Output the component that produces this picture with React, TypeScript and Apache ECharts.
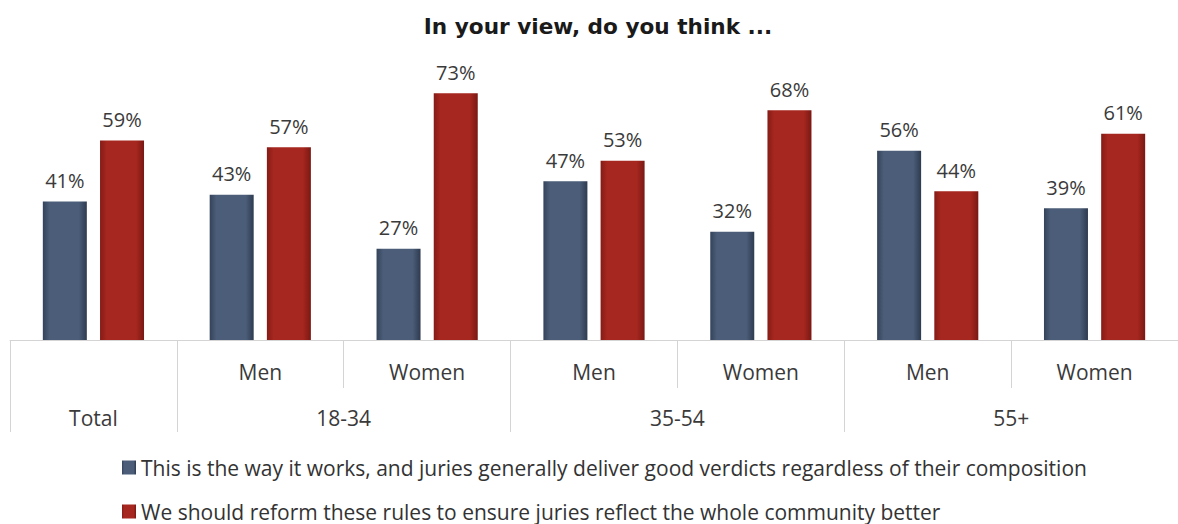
import React, { useEffect, useRef } from "react";
import * as echarts from "echarts";

const titleText = "In your view, do you think ...";
const categories = ["Total", "18-34 Men", "18-34 Women", "35-54 Men", "35-54 Women", "55+ Men", "55+ Women"];
const subLabels = ["", "Men", "Women", "Men", "Women", "Men", "Women"];
const groupLabels = ["Total", "18-34", "35-54", "55+"];
const groupSpans = [1, 2, 2, 2];
const seriesNames = [
  "This is the way it works, and juries generally deliver good verdicts regardless of their composition",
  "We should reform these rules to ensure juries reflect the whole community better",
];
const worksValues = [41, 43, 27, 47, 32, 56, 39];
const reformValues = [59, 57, 73, 53, 68, 44, 61];

const FONT = "'Open Sans', 'Noto Sans', sans-serif";

export default function App() {
  const ref = useRef<HTMLDivElement>(null);
  useEffect(() => {
    document.body.style.margin = "0";
    if (!ref.current) return;
    const chart = echarts.init(ref.current, null, { renderer: "svg" });

    // half-slot group axis: 2 slots per category => 15 points
    const total = groupSpans.reduce((a, b) => a + b, 0) * 2;
    const groupKeys: string[] = [];
    for (let i = 0; i <= total; i++) groupKeys.push("g" + i);
    const labelAt: Record<number, string> = {};
    const tickAt = new Set<number>([0]);
    let pos = 0;
    groupSpans.forEach((s, gi) => {
      labelAt[pos + s] = groupLabels[gi];
      pos += s * 2;
      tickAt.add(pos);
    });

    const grad = (edge: string, mid: string, edge2: string) =>
      new echarts.graphic.LinearGradient(0, 0, 1, 0, [
        { offset: 0, color: edge },
        { offset: 0.15, color: mid },
        { offset: 0.82, color: mid },
        { offset: 1, color: edge2 },
      ]);

    const label = {
      show: true,
      position: "top",
      distance: 11,
      formatter: "{c}%",
      fontFamily: FONT,
      fontSize: 20,
      color: "#3a3a3a",
    };

    chart.setOption({
      animation: false,
      title: {
        text: titleText,
        left: 598,
        textAlign: "center",
        top: 15,
        padding: 0,
        textStyle: { fontFamily: "'DejaVu Sans', sans-serif", fontWeight: "bold", fontSize: 21.6, color: "#1a1a1a" },
      },
      legend: {
        orient: "vertical",
        left: 122,
        top: 457,
        padding: 0,
        itemWidth: 14,
        itemHeight: 14,
        itemGap: 23,
        icon: "rect",
        textStyle: { fontFamily: FONT, fontSize: 21, color: "#333333" },
        data: seriesNames,
      },
      grid: { left: 10, width: 1181, top: 2, height: 338, containLabel: false },
      xAxis: [
        {
          type: "category",
          data: categories,
          position: "bottom",
          axisLine: { show: true, lineStyle: { color: "#d4d4d4", width: 1 } },
          axisTick: { show: true, length: 48, lineStyle: { color: "#d4d4d4" } },
          axisLabel: {
            interval: 0,
            margin: 21,
            fontFamily: FONT,
            fontSize: 21,
            color: "#3a3a3a",
            formatter: (_v: string, i: number) => subLabels[i],
          },
          splitLine: { show: false },
        },
        {
          type: "category",
          data: groupKeys,
          position: "bottom",
          boundaryGap: false,
          axisLine: { show: false },
          axisTick: {
            show: true,
            length: 92,
            interval: (i: number) => tickAt.has(i),
            lineStyle: { color: "#d4d4d4" },
          },
          axisLabel: {
            interval: (i: number) => labelAt[i] !== undefined,
            margin: 67,
            fontFamily: FONT,
            fontSize: 21,
            color: "#3a3a3a",
            formatter: (_v: string, i: number) => labelAt[i] || "",
          },
          splitLine: { show: false },
        },
      ],
      yAxis: { type: "value", min: 0, max: 100, show: false, splitLine: { show: false } },
      series: [
        {
          name: seriesNames[0],
          type: "bar",
          xAxisIndex: 0,
          data: worksValues,
          barWidth: 44,
          barGap: "30%",
          itemStyle: { color: grad("#34435a", "#4b5d78", "#2e3b50") },
          label,
        },
        {
          name: seriesNames[1],
          type: "bar",
          xAxisIndex: 0,
          data: reformValues,
          barWidth: 44,
          barGap: "30%",
          itemStyle: { color: grad("#851b16", "#a6271f", "#7a1813") },
          label,
        },
      ],
    });
    return () => chart.dispose();
  }, []);
  return <div ref={ref} style={{ width: 1178, height: 524 }} />;
}
